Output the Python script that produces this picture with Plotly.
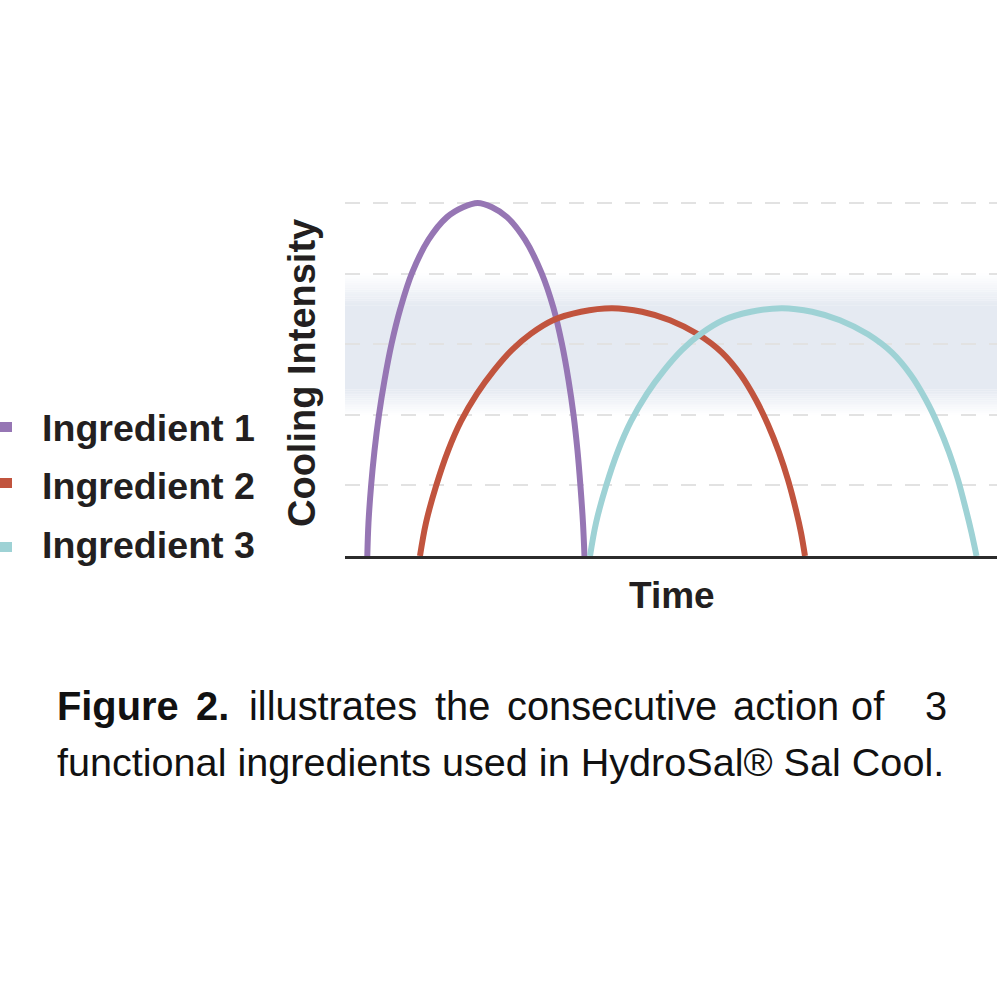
import plotly.graph_objects as go

# ---------------- data ----------------
series_names = ["Ingredient 1", "Ingredient 2", "Ingredient 3"]
series_colors = ["#9676b4", "#c1543e", "#9ed2d5"]

ing1_time = [3.42, 3.60, 3.99, 4.52, 5.21, 6.06, 7.13, 8.51, 10.28, 12.81, 15.64, 18.10, 20.35,
             22.55, 24.85, 27.61, 30.14, 31.98, 33.28, 34.28, 35.05, 35.66, 36.12, 36.50, 36.73]
ing1_int = [0.0, 0.47, 0.98, 1.49, 2.0, 2.49, 3.0, 3.51, 4.01, 4.48, 4.80, 4.94, 5.0,
            4.94, 4.80, 4.48, 4.01, 3.51, 3.0, 2.49, 2.0, 1.49, 0.98, 0.47, 0.0]

ing2_time = [11.50, 12.42, 13.96, 15.80, 17.79, 20.25, 22.85, 25.61, 28.53, 31.90, 36.20, 40.95,
             45.55, 49.85, 54.14, 57.82, 60.74, 63.04, 64.88, 66.56, 67.94, 69.17, 69.94, 70.55]
ing2_int = [0.0, 0.47, 0.99, 1.49, 1.91, 2.30, 2.63, 2.92, 3.15, 3.34, 3.46, 3.51,
            3.46, 3.34, 3.14, 2.88, 2.56, 2.21, 1.86, 1.47, 1.08, 0.65, 0.33, 0.0]

ing3_time = [37.58, 38.50, 40.03, 41.87, 43.87, 46.32, 48.93, 51.69, 54.60, 57.98, 62.27, 67.02,
             71.63, 75.92, 80.21, 83.90, 86.81, 89.11, 90.95, 92.64, 94.02, 95.25, 96.09, 96.86]
ing3_int = [0.0, 0.47, 0.99, 1.49, 1.91, 2.30, 2.63, 2.92, 3.15, 3.34, 3.46, 3.51,
            3.46, 3.34, 3.14, 2.88, 2.56, 2.21, 1.86, 1.47, 1.08, 0.65, 0.33, 0.0]

band_low, band_high = 2.0, 4.0          # shaded "optimal" zone
grid_vals = [1, 2, 3, 4, 5]

x_title = "Time"
y_title = "Cooling Intensity"
caption_line1 = [("<b>Figure</b>", 55), ("<b>2.</b>", 194), ("illustrates", 247),
                 ("the", 433), ("consecutive", 505), ("action", 731), ("of", 849), ("3", 923)]
caption_line2 = "functional ingredients used in HydroSal® Sal Cool."

# ---------------- layout geometry (page pixels) ----------------
W = H = 1000
PLOT_L, PLOT_R, PLOT_T, PLOT_B = 345, 997, 196, 556
ML, MR, MT, MB = PLOT_L, W - PLOT_R, PLOT_T, H - PLOT_B
PW, PH = W - ML - MR, H - MT - MB
Y_UNIT = 70.6  # pixels per intensity unit


def px_x(px):
    return (px - ML) / PW


def px_y(py):
    return (H - MB - py) / PH


FONT = "Liberation Sans, Arial, sans-serif"

fig = go.Figure()
for t, v, name, col in zip([ing1_time, ing2_time, ing3_time],
                           [ing1_int, ing2_int, ing3_int],
                           series_names, series_colors):
    fig.add_trace(go.Scatter(x=t, y=v, name=name, mode="lines",
                             line=dict(color=col, width=6, shape="spline", smoothing=1.0),
                             showlegend=False, hoverinfo="skip"))

# gradient band
band_rgb = (229, 234, 242)
fade_top, fade_bot = 0.45, 0.36
N = 14
shapes = []


def mix(a):
    r = [round(255 + (c - 255) * a) for c in band_rgb]
    return "rgb(%d,%d,%d)" % tuple(r)


for i in range(N):
    a = (i + 0.5) / N
    shapes.append(dict(type="rect", xref="paper", yref="y", x0=0, x1=1,
                       y0=band_high - (i + 1) * fade_top / N, y1=band_high - i * fade_top / N,
                       fillcolor=mix(a), line=dict(width=0), layer="below"))
    shapes.append(dict(type="rect", xref="paper", yref="y", x0=0, x1=1,
                       y0=band_low + i * fade_bot / N, y1=band_low + (i + 1) * fade_bot / N,
                       fillcolor=mix(a), line=dict(width=0), layer="below"))
shapes.append(dict(type="rect", xref="paper", yref="y", x0=0, x1=1,
                   y0=band_low + fade_bot, y1=band_high - fade_top,
                   fillcolor=mix(1.0), line=dict(width=0), layer="below"))

# legend squares + labels
legend_rows = [(422, 432, 428), (478, 488, 486), (542, 552, 545)]
annotations = []
for (y0, y1, yc), name, col in zip(legend_rows, series_names, series_colors):
    shapes.append(dict(type="rect", xref="paper", yref="paper",
                       x0=px_x(0), x1=px_x(12), y0=px_y(y1), y1=px_y(y0),
                       fillcolor=col, line=dict(width=0)))
    annotations.append(dict(text="<b>%s</b>" % name, xref="paper", yref="paper",
                            x=px_x(40), y=px_y(yc), xanchor="left", yanchor="middle",
                            showarrow=False,
                            font=dict(family=FONT, size=37.6, color="#231f20")))

# axis titles
annotations.append(dict(text="<b>%s</b>" % y_title, xref="paper", yref="paper",
                        x=px_x(302), y=px_y(373), xanchor="center", yanchor="middle",
                        textangle=-90, showarrow=False,
                        font=dict(family=FONT, size=38, color="#231f20")))
annotations.append(dict(text="<b>%s</b>" % x_title, xref="paper", yref="paper",
                        x=px_x(672), y=px_y(595), xanchor="center", yanchor="middle",
                        showarrow=False,
                        font=dict(family=FONT, size=37, color="#231f20")))

# caption
for word, xl in caption_line1:
    annotations.append(dict(text=word, xref="paper", yref="paper",
                            x=px_x(xl), y=px_y(706), xanchor="left", yanchor="middle",
                            showarrow=False,
                            font=dict(family=FONT, size=39.8, color="#111111")))
annotations.append(dict(text=caption_line2, xref="paper", yref="paper",
                        x=px_x(55), y=px_y(762), xanchor="left", yanchor="middle",
                        showarrow=False,
                        font=dict(family=FONT, size=39.6, color="#111111")))

fig.update_layout(
    width=W, height=H,
    margin=dict(l=ML, r=MR, t=MT, b=MB, pad=0),
    paper_bgcolor="white", plot_bgcolor="rgba(0,0,0,0)",
    shapes=shapes, annotations=annotations, showlegend=False,
    xaxis=dict(range=[0, 100], showgrid=False, zeroline=False, showticklabels=False,
               ticks="", showline=True, linecolor="#2b2b2b", linewidth=2.5),
    yaxis=dict(range=[0, PH / Y_UNIT], tickvals=grid_vals, showgrid=True,
               gridcolor="#e2e2e2", gridwidth=2, griddash="15px,13px",
               zeroline=False, showticklabels=False, ticks="", showline=False),
)

fig.write_html("out.html", config={"displayModeBar": False, "staticPlot": True},
               post_script="document.body.style.margin='0';document.body.style.padding='0';")
